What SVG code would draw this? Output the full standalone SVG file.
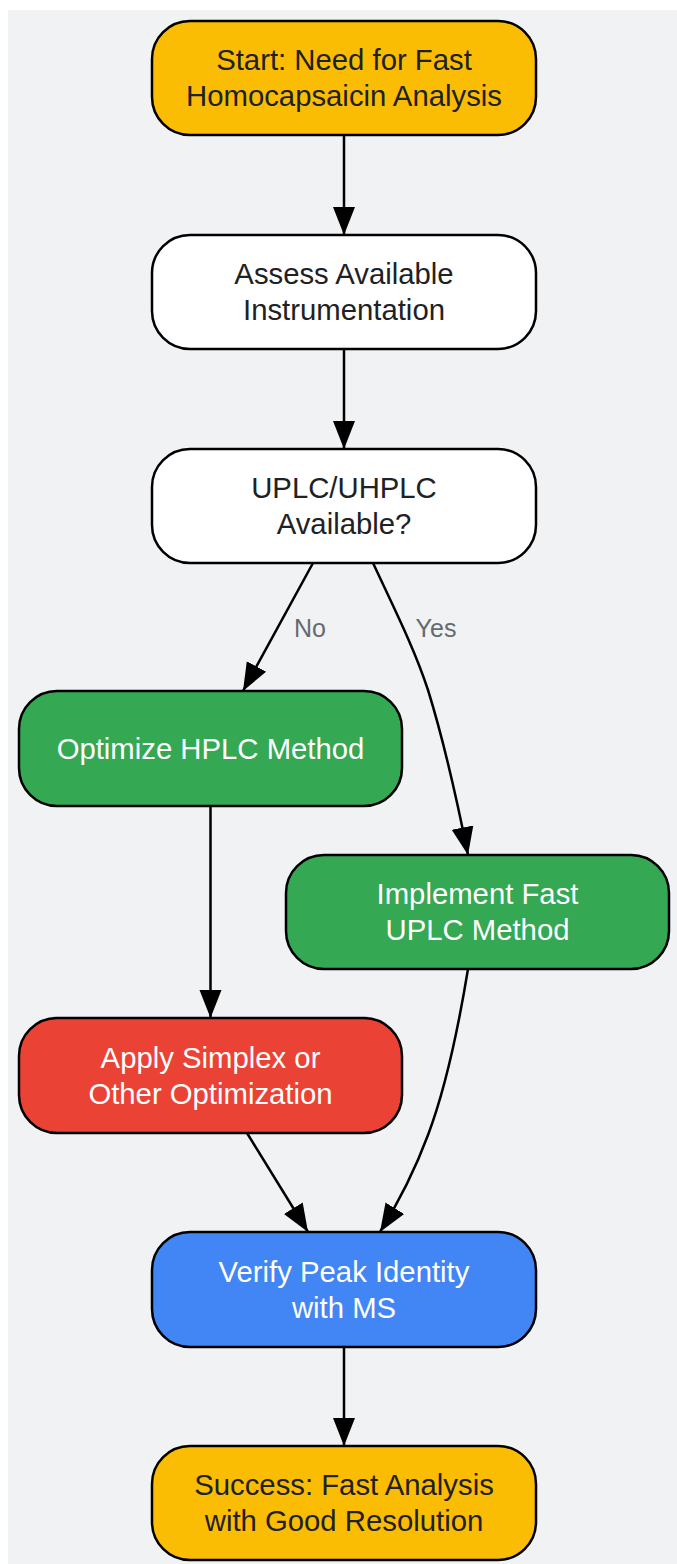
<svg xmlns="http://www.w3.org/2000/svg" width="677" height="1564" viewBox="0 0 677 1564">
<defs>
<marker id="arr" markerUnits="userSpaceOnUse" markerWidth="28" markerHeight="24" refX="28" refY="12" orient="auto">
<path d="M0,1 L28,12 L0,23 z" fill="#000"/>
</marker>
<style>
.n{stroke:#000;stroke-width:2.5}
.t{font-family:"Liberation Sans",Arial,sans-serif;font-size:29.3px;text-anchor:middle}
.d{fill:#202124}
.w{fill:#ffffff}
.e{fill:none;stroke:#000;stroke-width:2.5;marker-end:url(#arr)}
.l{font-family:"Liberation Sans",Arial,sans-serif;font-size:25px;fill:#666a70;text-anchor:middle}
</style>
</defs>
<rect x="8" y="10" width="669" height="1554" fill="#f1f2f4"/>
<g id="connectors">
<path class="e" d="M344,135 L344,235"/>
<path class="e" d="M344,349 L344,449"/>
<path class="e" d="M313,563 L243,691"/>
<path class="e" d="M373,563 C395,610 415,650 428,690 C442,735 455,790 468,855"/>
<path class="e" d="M210.5,806 L210.5,1018"/>
<path class="e" d="M468,969 C458,1030 445,1090 428,1135 C415,1170 400,1200 380,1232"/>
<path class="e" d="M247,1133 L308,1232"/>
<path class="e" d="M344,1347 L344,1446"/>
<text class="l" x="310" y="637">No</text>
<text class="l" x="436" y="637">Yes</text>
</g>
<g id="start">
<rect class="n" x="152" y="21" width="384" height="114" rx="38" fill="#fbbc04"/>
<text class="t d" x="344" y="70">Start: Need for Fast</text>
<text class="t d" x="344" y="106">Homocapsaicin Analysis</text>
</g>
<g id="assess">
<rect class="n" x="152" y="235" width="384" height="114" rx="38" fill="#ffffff"/>
<text class="t d" x="344" y="284">Assess Available</text>
<text class="t d" x="344" y="320">Instrumentation</text>
</g>
<g id="uplc">
<rect class="n" x="152" y="449" width="384" height="114" rx="38" fill="#ffffff"/>
<text class="t d" x="344" y="498">UPLC/UHPLC</text>
<text class="t d" x="344" y="534">Available?</text>
</g>
<g id="optimize">
<rect class="n" x="19" y="691" width="383" height="115" rx="38" fill="#34a853"/>
<text class="t w" x="210.5" y="758.5">Optimize HPLC Method</text>
</g>
<g id="implement">
<rect class="n" x="286" y="855" width="383" height="114" rx="38" fill="#34a853"/>
<text class="t w" x="477.5" y="904">Implement Fast</text>
<text class="t w" x="477.5" y="940">UPLC Method</text>
</g>
<g id="simplex">
<rect class="n" x="19" y="1018" width="383" height="115" rx="38" fill="#ea4335"/>
<text class="t w" x="210.5" y="1067.5">Apply Simplex or</text>
<text class="t w" x="210.5" y="1103.5">Other Optimization</text>
</g>
<g id="verify">
<rect class="n" x="152" y="1232" width="384" height="115" rx="38" fill="#4285f4"/>
<text class="t w" x="344" y="1281.5">Verify Peak Identity</text>
<text class="t w" x="344" y="1317.5">with MS</text>
</g>
<g id="success">
<rect class="n" x="152" y="1446" width="384" height="114" rx="38" fill="#fbbc04"/>
<text class="t d" x="344" y="1495">Success: Fast Analysis</text>
<text class="t d" x="344" y="1531">with Good Resolution</text>
</g>
</svg>
